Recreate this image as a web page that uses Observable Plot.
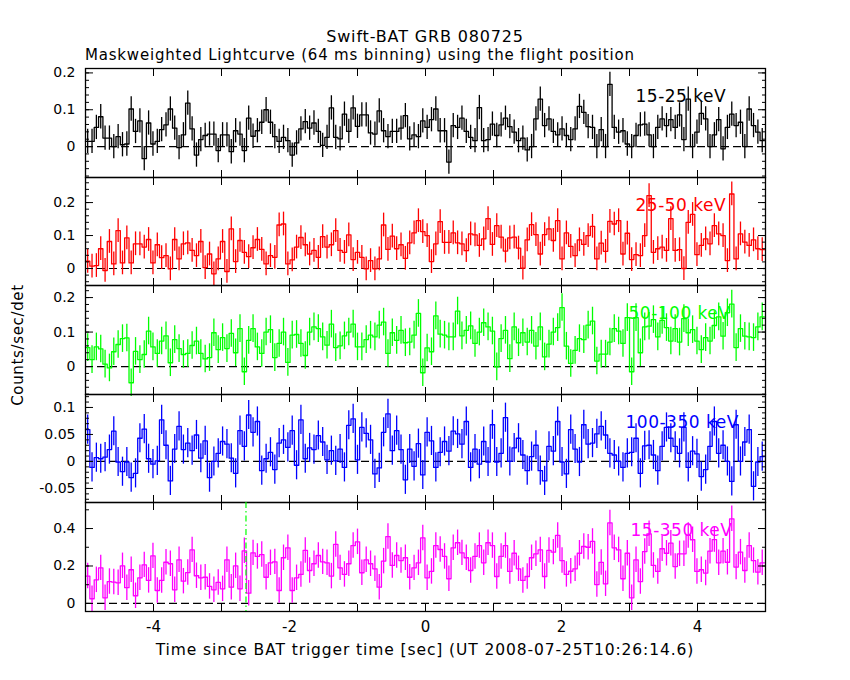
<!DOCTYPE html>
<html><head><meta charset="utf-8">
<script src="https://cdn.jsdelivr.net/npm/d3@7"></script>
<script src="https://cdn.jsdelivr.net/npm/@observablehq/plot@0.6"></script>
<style>
body{margin:0;background:#fff;}
#root{position:relative;width:850px;height:680px;background:#fff;font-family:"DejaVu Sans",sans-serif;overflow:hidden;}
.t{position:absolute;white-space:nowrap;color:#000;line-height:18px;}
.p{position:absolute;left:0;}
</style></head><body>
<div id="root">
<div class="t" style="left:0;width:850px;text-align:center;top:28px;font-size:16px;letter-spacing:0.85px;">Swift-BAT GRB 080725</div>
<div class="t" style="left:85px;top:46px;font-size:15px;letter-spacing:0.8px;">Maskweighted Lightcurve (64 ms binning) using the flight position</div>
<div class="t" style="left:0;width:850px;text-align:center;top:641px;font-size:15.5px;letter-spacing:0.9px;">Time since BAT trigger time [sec] (UT 2008-07-25T10:26:14.6)</div>
<div class="t" style="left:18px;top:345px;font-size:15px;letter-spacing:0.65px;transform:translate(-50%,-50%) rotate(-90deg);">Counts/sec/det</div>
</div>
<script>
const binWidth = 0.064;
const tStart = -5;
const bands = ["15-25 keV", "25-50 keV", "50-100 keV", "100-350 keV", "15-350 keV"];
const colors = ["#000000", "#ff0000", "#00ff00", "#0000ff", "#ff00ff"];
const errors = [0.033, 0.036, 0.040, 0.027, 0.068];
const xTicks = [-4, -3, -2, -1, 0, 1, 2, 3, 4];
const xLabels = [-4, -2, 0, 2, 4];
const markerTime = [-2.64];

const rate15_25 = [.014,.014,.052,.081,.023,.023,0,.027,.005,.007, .102,.041,.070,-.033,.064,.007,.014,.046,.059,.102, .050,-.003,.032,.118,.048,-.023,.019,.030,.034,.034, -.011,.032,.032,-.014,.043,.034,-.011,.077,.028,.043, .066,.100,.066,.027,.014,.025,.016,-.023,.010,.048, .068,.050,.064,.041,.003,.025,.105,.025,.021,.088, .041,.105,.055,.086,.086,.037,.034,.097,.043,.027, .041,.041,.050,.084,.021,.032,.027,.070,.052,
 .073,.102,.043,.043,-.042,.057,.052,.077,.041,.025, .016,.106,.016,.019,.061,.030,.059,.077,.054,.039, .016,.023,-.009,0,.075,.129,.057,.075,.041,.032, .048,.030,.019,.048,.109,.093,.054,.052,0,.046, 0,.169,.052,.039,.043,.007,0,.030,.059,.061, .032,0,.052,.075,.057,.073,.052,.086,.019,.129, 0,.039,.090,.075,0,.032,.073,-.006,.052,.088, .057,.066,0,.102,.057,.039,.016];

const rate25_50 = [.022,.007,.009,.060,-.006,.082,.014,.115,.017,.093, .017,.075,.075,.065,.088,.017,.072,.033,.039,-.001, .088,.029,.075,.078,.055,.039,.082,.003,.044,-.016, .029,.082,-.009,.120,.021,.085,.049,.036,.063,.088, .058,.014,.039,.034,.132,.135,.014,.026,.065,.094, .072,.044,.055,.034,.097,.065,.072,.115,.055,.049, .102,.027,.049,.034,-.001,.024,-.001,.029,.132,.058, .098,.060,.072,.031,.078,.108,.145,.112,.100,
 .021,.075,.142,.079,.079,.108,.078,.075,.054,.105, .102,.070,.090,.151,.073,.130,.095,.053,.093,.095, .062,.001,.087,.133,.103,.044,.103,.120,.085,.145, .029,.108,.067,.039,.087,.073,.100,.128,.029, .077,.052,.143,.135,.145,.044,.107,.027,.042,.039,.100, .221,.049,.060,.065,.055,.151,.055,.057,0,.140, .164,.042,.070,.090,.075,.130,.105,.100,.024,.226, .029,.105,.080,.070,.087,.060,.057];

const rate50_100 = [.055,.020,.057,.051,.007,-.004,.043,.064,.081,.083, -.047,.044,.020,.035,.103,.057,.038,.074,.089,.011, .078,.052,.035,.038,.061,.074,.038,.022,.026,.098, .049,.084,.052,.096,.040,.110,-.015,.076,.110,.057, .038,.100,.107,.026,.067,.100,.012,.091,.093,.067, .032,.100,.115,.110,.086,.062,.123,.055,.060,.089, .100,.123,.057,.057,.078,.091,.086,.120,.129,.038, .098,.076,.105,.069,.071,.091,.154,-.018,.054,
 .043,.147,.094,.091,.086,.086,.161,.089,.105,.118, .067,.100,.127,.115,.103,-.001,.081,.105,.023,.115, .069,.098,.071,.105,.059,.115,.028,.065,.100,.113, .171,.059,.009,.047,.081,.078,.120,.132,.016,.036, .036,.071,.110,.103,.067,.142,-.015,.142,.040,.115, .117,.136,.086,.134,.113,.074,.110,.071,.139,.098, .107,.074,.049,.084,.074,.119,.144,.088,.156,.181, .055,.110,.088,.086,.084,.115,.144];

const rate100_350 = [.059,-.011,.007,.005,.008,.022,.056,-.001,-.019,-.001, -.030,-.022,.043,.060,.005,-.005,.001,.077,.030,-.036, .023,.065,.022,.034,.020,.049,.006,.038,-.030,0, .015,.037,.032,.006,-.022,.057,.028,.086,.054,.074, -.017,.005,.017,-.015,.034,.040,.026,.057,-.007,.077, .005,.025,.022,.048,.036,.003,.020,.001,.023,-.011, .067,.079,.003,.063,.052,.040,-.023,-.012,.054,.088, .020,.057,.022,-.034,.023,-.009,.033,-.025,.054,
 .038,-.011,.017,.037,.019,.056,.051,.032,.074,-.011, .023,-.005,.037,-.001,.068,-.001,.015,.081,0,.025, .043,.012,-.017,.009,.030,-.017,-.036,.028,.019,.074, -.001,-.023,.059,.023,-.001,.068,.032,.034,.051,.065, .049,.015,.012,0,-.011,.015,.017,.043,-.022,.029, .030,.012,-.017,.028,.063,.043,.028,.015,.063,-.011, .019,.014,-.028,-.015,.028,.074,.015,.030,0,-.037, .068,0,.036,.059,-.046,-.001,.009];

const rate15_350 = [.146,.025,.126,.190,.030,.117,.114,.110,.201,.084, .180,.041,.137,.206,.123,.254,.069,.123,.220,.212, .073,.233,.119,.165,.286,.148,.137,.140,.091,.073, .112,.078,.233,.087,.201,.078,.281,.055,.270,.251, .261,.140,.217,.222,.069,.244,.297,.069,.137,.155, .283,.176,.212,.256,.222,.217,.146,.315,.190,.155, .212,.309,.329,.164,.233,.212,.185,.087,.226,.357, .203,.256,.229,.244,.140,.190,.217,.350,.137,
 .171,.309,.288,.251,.132,.297,.324,.270,.244,.176, .251,.309,.217,.324,.309,.144,.251,.309,.171,.268, .185,.123,.144,.244,.265,.286,.144,.283,.274,.363, .229,.155,.172,.185,.268,.304,.300,.331,.101,.219, .105,.430,.297,.286,.132,.268,.030,.233,.117,.277, .372,.203,.171,.292,.268,.322,.197,.265,.265,.363, .340,.171,.180,.162,.279,.341,.217,.279,.220,.452, .194,.274,.176,.309,.229,.167,.217];

const series = [rate15_25, rate25_50, rate50_100, rate100_350, rate15_350];
const yDomains = [[-0.084, 0.212], [-0.0515, 0.276], [-0.081, 0.235], [-0.076, 0.124], [-0.043, 0.539]];
const yMajor = [[0, 0.1, 0.2], [0, 0.1, 0.2], [0, 0.1, 0.2], [-0.05, 0, 0.05, 0.1], [0, 0.2, 0.4]];
const yMinorStep = [0.02, 0.02, 0.02, 0.01, 0.1];

const layout = [
  {top: 68, height: 109, labelDx: 550},
  {top: 177, height: 108, labelDx: 550},
  {top: 285, height: 109, labelDx: 543},
  {top: 394, height: 108, labelDx: 540},
  {top: 502, height: 109, labelDx: 545}
];

const root = document.getElementById("root");
const font = '"DejaVu Sans", sans-serif';

series.forEach((values, p) => {
  const err = errors[p];
  const color = colors[p];
  const bins = values.map((v, i) => ({t0: tStart + i * binWidth, t: tStart + (i + 0.5) * binWidth, v, lo: v - err, hi: v + err}));
  const steps = bins.map(b => ({t: b.t0, v: b.v})).concat([{t: tStart + values.length * binWidth, v: values[values.length - 1]}]);
  const [d0, d1] = yDomains[p];
  const st = yMinorStep[p];
  const minor = d3.range(Math.ceil(d0 / st), Math.floor(d1 / st) + 1).map(k => +(k * st).toFixed(4));
  const isBottom = p === series.length - 1;
  const mb = isBottom ? 40 : 0;
  const L = layout[p];
  const marks = [
    Plot.ruleY([0], {stroke: "black", strokeWidth: 1.2, strokeDasharray: "8,4"}),
    Plot.ruleX(bins, {x: "t", y1: "lo", y2: "hi", stroke: color, strokeWidth: 1.3}),
    Plot.line(steps, {x: "t", y: "v", curve: "step-after", stroke: color, strokeWidth: 1.3}),
    Plot.axisY({anchor: "left", ticks: yMajor[p], tickSize: -8, tickPadding: 18, tickFormat: d => String(d), fontSize: 14, fill: "black", label: null}),
    Plot.axisY({anchor: "left", ticks: minor, tickSize: -4, tickFormat: () => "", label: null}),
    Plot.axisY({anchor: "right", ticks: yMajor[p], tickSize: -8, tickFormat: () => "", label: null}),
    Plot.axisY({anchor: "right", ticks: minor, tickSize: -4, tickFormat: () => "", label: null}),
    Plot.axisX({anchor: "top", ticks: xTicks, tickSize: -7, tickFormat: () => "", label: null}),
    Plot.axisX({anchor: "bottom", ticks: xTicks, tickSize: -7, tickFormat: () => "", label: null}),
    Plot.text([bands[p]], {frameAnchor: "top-left", dx: L.labelDx, dy: 21, text: d => d, fill: color, fontSize: 17, textAnchor: "start", lineAnchor: "top"}),
    Plot.frame({stroke: "black", strokeWidth: 1.3})
  ];
  if (isBottom) {
    marks.push(Plot.axisX({anchor: "bottom", ticks: xLabels, tickSize: 0, tickPadding: 10, tickFormat: d => String(d), fontSize: 15, fill: "black", label: null}));
    marks.push(Plot.ruleX(markerTime, {stroke: "#00ff00", strokeWidth: 1.2, strokeDasharray: "6,3,1.5,3"}));
  }
  const chart = Plot.plot({
    width: 850,
    height: L.height + mb,
    marginLeft: 85, marginRight: 85, marginTop: 0, marginBottom: mb,
    x: {domain: [-5, 5], axis: null},
    y: {domain: yDomains[p], axis: null},
    style: {background: "transparent", overflow: "visible", fontFamily: font, color: "black"},
    marks
  });
  chart.querySelectorAll("text").forEach(t => { if (t.textContent === bands[p]) t.style.letterSpacing = "0.5px"; });
  chart.classList.add("p");
  chart.style.top = L.top + "px";
  chart.style.position = "absolute";
  chart.style.left = "0px";
  root.appendChild(chart);
});
</script>
</body></html>
